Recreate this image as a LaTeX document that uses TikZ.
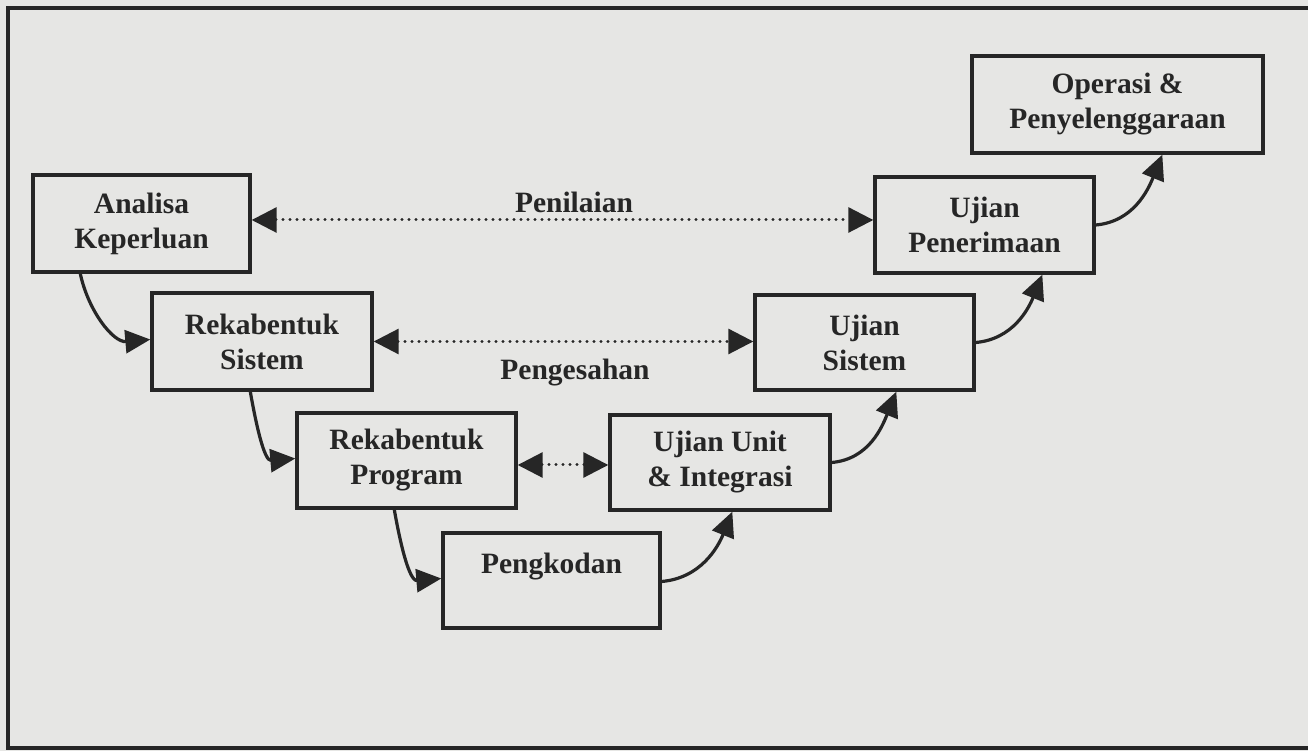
\documentclass[tikz,border=0pt]{standalone}
\usepackage{fontspec}
\setmainfont{Liberation Serif}
\usetikzlibrary{arrows.meta,calc}

\definecolor{paper}{HTML}{E6E6E4}
\definecolor{ink}{HTML}{262626}

\tikzset{
  stage/.style={draw=ink, line width=3.4pt, fill=none, inner sep=0pt,
    align=center, text=ink, font=\bfseries\fontsize{29.5}{35}\selectfont},
  flow/.style={draw=ink, line width=3.2pt, -{Triangle[length=25pt,width=23pt]}},
  trace/.style={draw=ink, line width=3pt, line cap=round, dash pattern=on 0.1pt off 6.9pt,
    {Triangle[length=25pt,width=25pt]}-{Triangle[length=25pt,width=25pt]}},
  caption/.style={text=ink, font=\bfseries\fontsize{29.5}{35}\selectfont, inner sep=0pt}
}

\begin{document}
\begin{tikzpicture}[x=1pt,y=1pt]
  % page and outer frame
  \fill[paper] (0,0) rectangle (1308,751);
  \useasboundingbox (0,0) rectangle (1308,751);
  \draw[ink, line width=3.2pt] (1320,743) -- (8,743) -- (8,3) -- (1320,3);

  % left arm of the V: specification and design
  \node[stage, minimum width=217pt, minimum height=97pt] (ak) at (141.5,527.5) {Analisa\\Keperluan};
  \node[stage, minimum width=220pt, minimum height=97pt] (rs) at (262,409.5) {Rekabentuk\\Sistem};
  \node[stage, minimum width=219pt, minimum height=95pt] (rp) at (406.5,290.5) {Rekabentuk\\Program};
  \node[stage, minimum width=217pt, minimum height=95pt] (pk) at (551.5,170.5) {Pengkodan\\\phantom{X}};

  % right arm of the V: testing and operation
  \node[stage, minimum width=220pt, minimum height=95pt] (us) at (720,288.5) {Ujian Unit\\\& Integrasi};
  \node[stage, minimum width=219pt, minimum height=95pt] (ys) at (864.5,408.5) {Ujian\\Sistem};
  \node[stage, minimum width=219pt, minimum height=96pt] (up) at (984.5,526) {Ujian\\Penerimaan};
  \node[stage, minimum width=291pt, minimum height=97pt] (op) at (1117.5,646.5) {Operasi \&\\Penyelenggaraan};

  % labels on the verification links
  \node[caption, anchor=base] (pn) at (574,538) {Penilaian};
  \node[caption, anchor=base] (pg) at (575,371) {Pengesahan};

  % dotted verification links
  \draw[trace] ([yshift=3.5pt]ak.east) -- ([yshift=5pt]up.west);
  \draw[trace] (rs.east) -- ([yshift=1pt]ys.west);
  \draw[trace] ([yshift=-4.5pt]rp.east) -- ([yshift=-2.5pt]us.west);

  % downward flow
  \draw[flow] ([xshift=49pt]ak.south west) to[out=-78, in=185] ([yshift=2pt]rs.west);
  \draw[flow] ([xshift=100pt]rs.south west) to[out=-80, in=185] ([yshift=2pt]rp.west);
  \draw[flow] ([xshift=99pt]rp.south west) to[out=-80, in=185] ([yshift=2pt]pk.west);

  % upward flow
  \draw[flow] ([yshift=-1pt]pk.east) to[out=5, in=-112] ([xshift=124pt]us.south west);
  \draw[flow] (us.east) to[out=5, in=-112] ([xshift=143pt]ys.south west);
  \draw[flow] (ys.east) to[out=5, in=-112] ([xshift=169pt]up.south west);
  \draw[flow] (up.east) to[out=5, in=-112] ([xshift=192pt]op.south west);
\end{tikzpicture}
\end{document}
